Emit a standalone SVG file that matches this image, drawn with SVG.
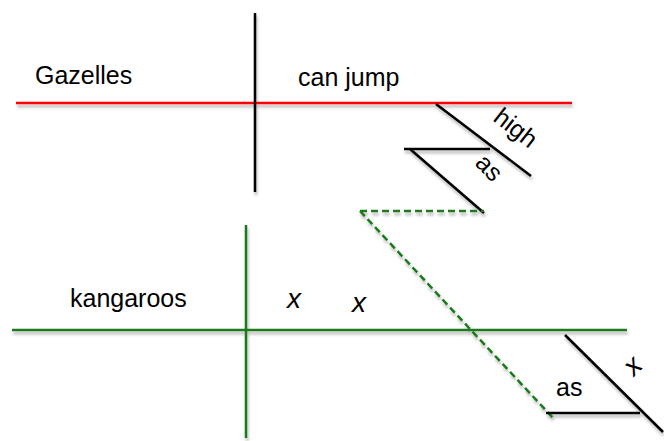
<svg xmlns="http://www.w3.org/2000/svg" width="664" height="441" viewBox="0 0 664 441">
<defs>
<filter id="sh" x="-10%" y="-10%" width="120%" height="130%">
<feGaussianBlur in="SourceAlpha" stdDeviation="1.5"/>
<feOffset dx="1" dy="2.5" result="b"/>
<feComponentTransfer><feFuncA type="linear" slope="0.3"/></feComponentTransfer>
<feMerge><feMergeNode/><feMergeNode in="SourceGraphic"/></feMerge>
</filter>
</defs>
<style>
.t{font-family:"Liberation Sans",Arial,sans-serif;font-size:25px;fill:#000}
.i{font-style:italic;font-size:28px}
.k{stroke:#000;stroke-width:2.5;fill:none}
.r{stroke:#f00;stroke-width:2.5;fill:none}
.g{stroke:#1a7a1a;stroke-width:2.5;fill:none}
.gd{stroke:#1a7a1a;stroke-width:2.5;fill:none;stroke-dasharray:7 4}
</style>
<rect width="664" height="441" fill="#fff"/>
<g id="connectors" filter="url(#sh)">
<line class="r" x1="16" y1="103" x2="572" y2="103"/>
<line class="k" x1="255" y1="13" x2="255" y2="192"/>
<line class="k" x1="436" y1="104" x2="531" y2="176"/>
<line class="k" x1="404" y1="149" x2="490" y2="149"/>
<line class="k" x1="410" y1="149" x2="484" y2="213"/>
<line class="gd" x1="360" y1="211" x2="484" y2="211"/>
<line class="gd" x1="360" y1="211" x2="554" y2="419"/>
<line class="g" x1="246" y1="225" x2="246" y2="438"/>
<line class="g" x1="12" y1="330" x2="627" y2="330"/>
<line class="k" x1="565" y1="335" x2="663" y2="432"/>
<line class="k" x1="546" y1="413" x2="640" y2="413"/>
</g>
<g id="gazelles"><text class="t" x="35" y="84">Gazelles</text></g>
<g id="canjump"><text class="t" x="298" y="86">can jump</text></g>
<g id="high"><text class="t" x="0" y="0" transform="translate(492,120) rotate(38)">high</text></g>
<g id="as1"><text class="t" x="0" y="0" transform="translate(474,164) rotate(46)">as</text></g>
<g id="kangaroos"><text class="t" x="70" y="307">kangaroos</text></g>
<g id="x1"><text class="t i" x="287" y="308">x</text></g>
<g id="x2"><text class="t i" x="352" y="312">x</text></g>
<g id="as2"><text class="t" x="556" y="396">as</text></g>
<g id="x3"><text class="t i" x="0" y="0" transform="translate(634,377) rotate(-45)">x</text></g>
</svg>
